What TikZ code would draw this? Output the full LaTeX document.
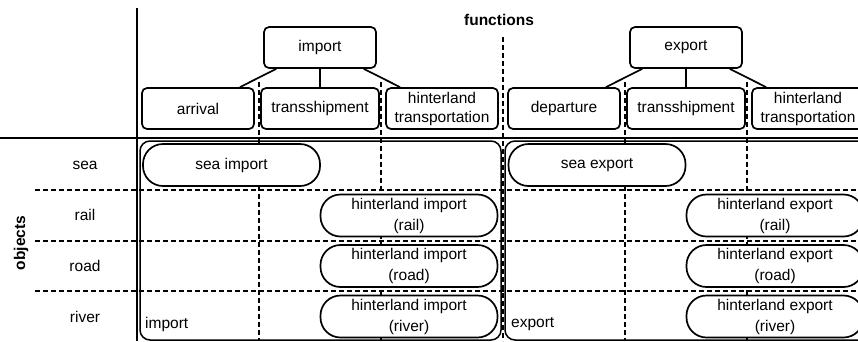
\documentclass[tikz,border=0pt]{standalone}
\usepackage{fontspec}
\setmainfont{Liberation Sans}
\begin{document}
\begin{tikzpicture}[x=1pt,y=-1pt,
    every node/.style={font=\fontsize{15.5}{19}\selectfont, inner sep=1pt},
    fbox/.style={draw, fill=white, rounded corners=5pt, line width=1.7pt,
                 minimum height=41pt, align=center},
    pill/.style={draw, fill=white, rounded corners=20pt, line width=1.7pt,
                 minimum width=177pt, minimum height=42pt, align=center,
                 font=\fontsize{15.5}{21}\selectfont},
    cutline/.style={dashed, dash pattern=on 5pt off 3pt, line width=1.1pt},
    heading/.style={font=\fontsize{15.5}{19}\selectfont\bfseries}]

  \clip (0,0) rectangle (858,341);

  % Dashed grid
  \foreach \x in {259,381,625,747}
    \draw [cutline] (\x,82) -- (\x,341);
  \draw [cutline] (503,37) -- (503,341);
  \foreach \y in {190,241,291}
    \draw [cutline] (35,\y) -- (858,\y);

  % Axes
  \draw [line width=2pt] (137,8) -- (137,341);
  \draw [line width=2pt] (0,138) -- (858,138);
  \node [heading] (functions) at (499,20) {functions};
  \node [heading, rotate=90] (objects) at (21,243) {objects};

  % Object rows
  \foreach \n/\y in {sea/165,rail/215,road/266,river/317}
    \node (\n) at (85,\y) {\n};

  % For each function ...
  \foreach \g/\first/\x in {import/arrival/320, export/departure/686} {
    \node [fbox, minimum width=112pt] (\g) at (\x,47.5) {\g};

    % Sub-functions
    \node [fbox, minimum width=112pt] (\g-a) at (\x-122,108.5) {\first};
    \node [fbox, minimum width=118pt] (\g-t) at (\x,108.5) {transshipment};
    \node [fbox, minimum width=112pt] (\g-h) at (\x+122,108.5) {hinterland\\transportation};

    \draw [line width=1.7pt] (\g.-154) -- (\g-a.27);
    \draw [line width=1.7pt] (\g.south) -- (\g-t.north);
    \draw [line width=1.7pt] (\g.-26) -- (\g-h.153);
  }

  % Import and export regions
  \draw [line width=1.5pt, rounded corners=10pt] (140,141) rectangle (501,340);
  \draw [line width=1.5pt, rounded corners=10pt] (505,141) rectangle (875,340);
  \node [anchor=west] (implbl) at (144,324) {import};
  \node [anchor=west] (explbl) at (510,324) {export};

  % Processes
  \node [pill] (seaimp) at (231.5,165) {sea import};
  \node [pill] (seaexp) at (597,165) {sea export};
  \foreach \m/\y in {rail/215.5,road/266,river/316.5} {
    \node [pill] (imp-\m) at (409,\y) {hinterland import\\(\m)};
    \node [pill] (exp-\m) at (775,\y) {hinterland export\\(\m)};
  }

\end{tikzpicture}
\end{document}
